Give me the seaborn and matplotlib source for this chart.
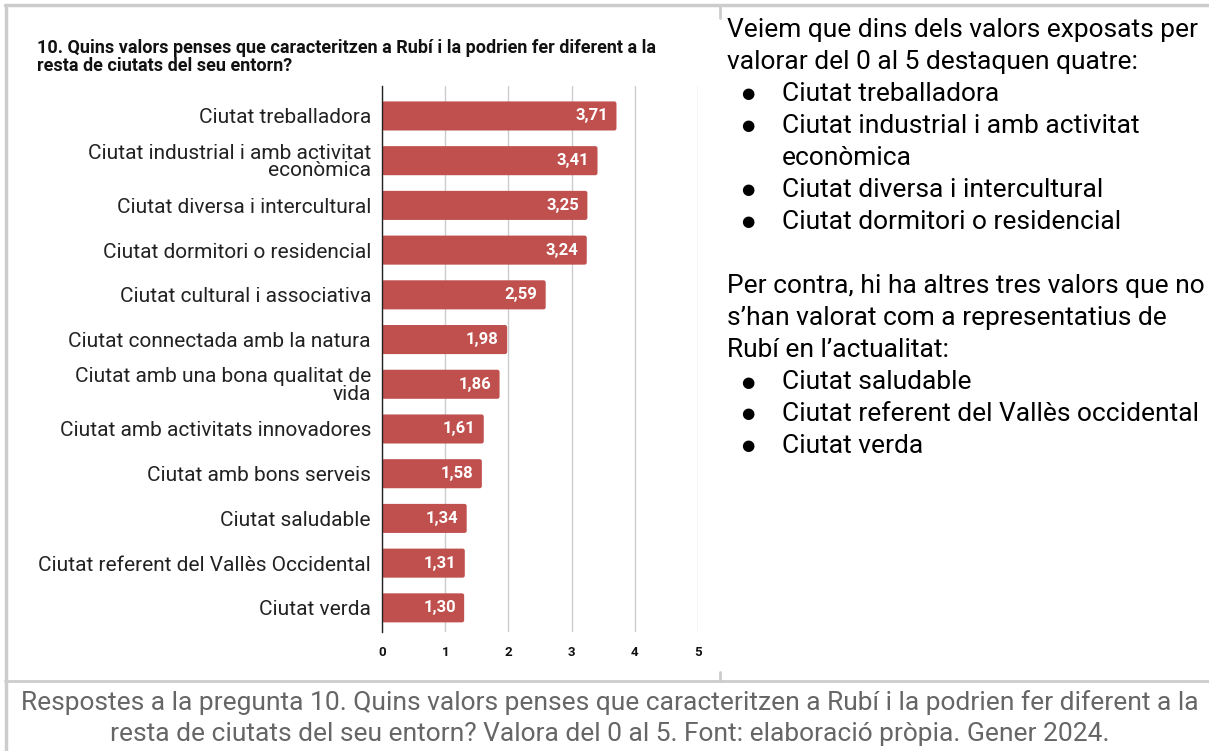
import matplotlib
matplotlib.use("Agg")
import matplotlib.pyplot as plt
import seaborn as sns
import pandas as pd
from matplotlib.lines import Line2D
from matplotlib.patches import FancyBboxPatch

# dades del gràfic
categories = [
    "Ciutat treballadora",
    "Ciutat industrial i amb activitat\neconòmica",
    "Ciutat diversa i intercultural",
    "Ciutat dormitori o residencial",
    "Ciutat cultural i associativa",
    "Ciutat connectada amb la natura",
    "Ciutat amb una bona qualitat de\nvida",
    "Ciutat amb activitats innovadores",
    "Ciutat amb bons serveis",
    "Ciutat saludable",
    "Ciutat referent del Vallès Occidental",
    "Ciutat verda",
]
valors = [3.71, 3.41, 3.25, 3.24, 2.59, 1.98, 1.86, 1.61, 1.58, 1.34, 1.31, 1.30]
ticks = [0, 1, 2, 3, 4, 5]

titol = ("10. Quins valors penses que caracteritzen a Rubí i la podrien fer diferent a la\n"
         "resta de ciutats del seu entorn?")

text_dreta = [
    ("", "Veiem que dins dels valors exposats per"),
    ("", "valorar del 0 al 5 destaquen quatre:"),
    ("●", "Ciutat treballadora"),
    ("●", "Ciutat industrial i amb activitat"),
    ("-", "econòmica"),
    ("●", "Ciutat diversa i intercultural"),
    ("●", "Ciutat dormitori o residencial"),
    (None, ""),
    ("", "Per contra, hi ha altres tres valors que no"),
    ("", "s’han valorat com a representatius de"),
    ("", "Rubí en l’actualitat:"),
    ("●", "Ciutat saludable"),
    ("●", "Ciutat referent del Vallès occidental"),
    ("●", "Ciutat verda"),
]

peu = ("Respostes a la pregunta 10. Quins valors penses que caracteritzen a Rubí i la podrien fer diferent a la\n"
       "resta de ciutats del seu entorn? Valora del 0 al 5. Font: elaboració pròpia. Gener 2024.")

df = pd.DataFrame({"valor": valors, "categoria": categories})

sns.set_style("white")
plt.rcParams["font.family"] = ["Roboto", "DejaVu Sans"]

W, H = 1209, 751
fig = plt.figure(figsize=(W / 100, H / 100), dpi=100)

# eixos en píxels
x0, x1, y0, y1 = 382, 698, 86, 632
ax = fig.add_axes([x0 / W, 1 - y1 / H, (x1 - x0) / W, (y1 - y0) / H])

sns.barplot(data=df, x="valor", y="categoria", orient="h", color="#C0504D",
            width=0.65, saturation=1, ax=ax, zorder=3)

# cantonades lleugerament arrodonides
for p in list(ax.patches):
    bx, by, bw, bh = p.get_x(), p.get_y(), p.get_width(), p.get_height()
    rp = FancyBboxPatch((bx, by), bw, bh, boxstyle="round,pad=0,rounding_size=0.035",
                        mutation_aspect=1.4, fc=p.get_facecolor(), ec="none", zorder=3)
    p.remove()
    ax.add_patch(rp)

ax.set_xlim(0, 5)
ax.set_ylim(11.54, -0.67)
ax.set_xticks(ticks)
ax.set_xticklabels([str(t) for t in ticks], fontweight="bold", fontsize=9.5, color="#111")
ax.tick_params(axis="x", length=0, pad=10)
ax.tick_params(axis="y", length=0, pad=8, labelsize=15, labelcolor="#222")
for lab in ax.get_yticklabels():
    lab.set_linespacing(0.9)
ax.set_xlabel("")
ax.set_ylabel("")
ax.grid(axis="x", color="#cccccc", lw=1, zorder=0)
for s in ["top", "right", "bottom"]:
    ax.spines[s].set_visible(False)
ax.spines["left"].set_color("#222")
ax.spines["left"].set_linewidth(1)
ax.spines["left"].set_zorder(4)

for i, v in enumerate(valors):
    ax.annotate(f"{v:.2f}".replace(".", ","), (v, i), xytext=(-6, 0),
                textcoords="offset points", ha="right", va="center",
                color="white", fontweight="bold", fontsize=12, zorder=5)

fig.text(37 / W, 1 - 39 / H, titol, ha="left", va="top", fontsize=13,
         fontweight="bold", color="#111", linespacing=1.0)

# text de la dreta
for i, (bullet, linia) in enumerate(text_dreta):
    if bullet is None:
        continue
    yy = 1 - (30 + 32 * i) / H
    if bullet == "●":
        fig.text(748 / W, yy, "●", ha="center", va="center", fontsize=11,
                 color="#000", family=["DejaVu Sans"])
    xx = 727 if bullet == "" else 782
    fig.text(xx / W, yy, linia, ha="left", va="center", fontsize=19, color="#000")

fig.text(610 / W, 1 - 718 / H, peu, ha="center", va="center", fontsize=19,
         color="#666666", linespacing=1.4)

# vores de la taula
c = "#cccccc"
fig.add_artist(Line2D([5 / W, 1], [1 - 5 / H, 1 - 5 / H], color=c, lw=2.5, transform=fig.transFigure))
fig.add_artist(Line2D([6 / W, 6 / W], [1 - 5 / H, 0], color=c, lw=2.5, transform=fig.transFigure))
fig.add_artist(Line2D([5 / W, 1], [1 - 681 / H, 1 - 681 / H], color=c, lw=2, transform=fig.transFigure))
fig.add_artist(Line2D([720 / W, 720 / W], [1 - 5 / H, 1 - 18 / H], color=c, lw=2, transform=fig.transFigure))
fig.add_artist(Line2D([720 / W, 720 / W], [1 - 672 / H, 1 - 681 / H], color=c, lw=2, transform=fig.transFigure))

fig.savefig("out.png", dpi=100)
